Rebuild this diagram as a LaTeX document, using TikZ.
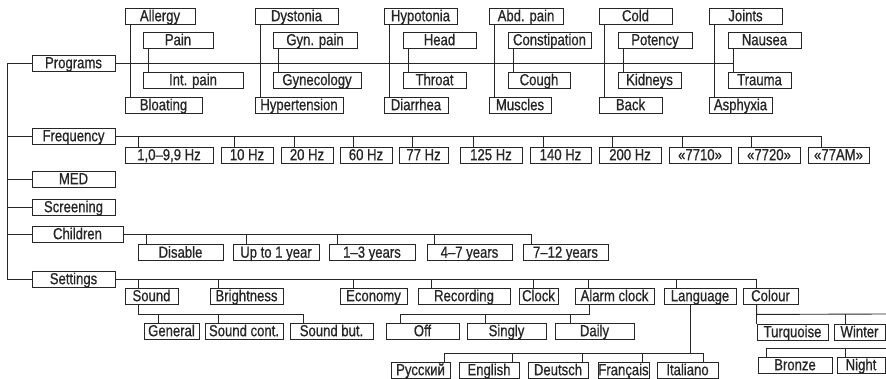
\documentclass[tikz,border=0pt]{standalone}
\usepackage{fontspec}
\setmainfont[FakeStretch=0.82, FakeBold=0.8]{Liberation Sans}
\usepackage{tikz}

\begin{document}
\begin{tikzpicture}[x=1pt, y=-1pt, line width=0.9pt, color=black!85,
  item/.style={draw, minimum height=16pt, inner sep=0pt, text height=12.4pt, text depth=2pt, font=\fontsize{16}{18}\selectfont}]
\useasboundingbox (0, 0) rectangle (886, 379);

\node[item, minimum width=83] (programs) at (73.5, 63) {Programs};
\node[item, minimum width=83] (frequency) at (73.5, 136) {Frequency};
\node[item, minimum width=83] (med) at (73.5, 179) {MED};
\node[item, minimum width=83] (screening) at (73.5, 207) {Screening};
\node[item, minimum width=91] (children) at (77.5, 234) {Children};
\node[item, minimum width=83] (settings) at (73.5, 279) {Settings};

\node[item, minimum width=70] (allergy) at (160, 16) {Allergy};
\node[item, minimum width=70] (pain) at (178, 40) {Pain};
\node[item, minimum width=100] (intpain) at (193, 80) {Int. pain};
\node[item, minimum width=77] (bloating) at (163.5, 105) {Bloating};
\node[item, minimum width=83] (dystonia) at (296.5, 16) {Dystonia};
\node[item, minimum width=84] (gynpain) at (315, 40) {Gyn. pain};
\node[item, minimum width=88] (gynecology) at (317, 80) {Gynecology};
\node[item, minimum width=88] (hypertension) at (299, 105) {Hypertension};
\node[item, minimum width=73] (hypotonia) at (420.5, 16) {Hypotonia};
\node[item, minimum width=73] (head) at (439.5, 40) {Head};
\node[item, minimum width=63] (throat) at (434.5, 80) {Throat};
\node[item, minimum width=64] (diarrhea) at (416, 105) {Diarrhea};
\node[item, minimum width=74] (abdpain) at (526, 16) {Abd. pain};
\node[item, minimum width=83] (constipation) at (549.5, 40) {Constipation};
\node[item, minimum width=62] (cough) at (539, 80) {Cough};
\node[item, minimum width=62] (muscles) at (520, 105) {Muscles};
\node[item, minimum width=73] (cold) at (635.5, 16) {Cold};
\node[item, minimum width=74] (potency) at (655, 40) {Potency};
\node[item, minimum width=63] (kidneys) at (649.5, 80) {Kidneys};
\node[item, minimum width=63] (back) at (630.5, 105) {Back};
\node[item, minimum width=73] (joints) at (745.5, 16) {Joints};
\node[item, minimum width=73] (nausea) at (764.5, 40) {Nausea};
\node[item, minimum width=63] (trauma) at (759.5, 80) {Trauma};
\node[item, minimum width=63] (asphyxia) at (740.5, 105) {Asphyxia};

\node[item, minimum width=88] (f1) at (169, 155) {1,0--9,9 Hz};
\node[item, minimum width=52] (f10) at (247, 155) {10 Hz};
\node[item, minimum width=52] (f20) at (307, 155) {20 Hz};
\node[item, minimum width=52] (f60) at (366, 155) {60 Hz};
\node[item, minimum width=49] (f77) at (423.5, 155) {77 Hz};
\node[item, minimum width=62] (f125) at (491, 155) {125 Hz};
\node[item, minimum width=61] (f140) at (560.5, 155) {140 Hz};
\node[item, minimum width=62] (f200) at (630, 155) {200 Hz};
\node[item, minimum width=62] (f7710) at (700, 155) {«7710»};
\node[item, minimum width=62] (f7720) at (769, 155) {«7720»};
\node[item, minimum width=61] (f77am) at (838.5, 155) {«77AM»};

\node[item, minimum width=85] (disable) at (180.5, 252.5) {Disable};
\node[item, minimum width=86] (upto1) at (276, 252.5) {Up to 1 year};
\node[item, minimum width=86] (y13) at (372, 252.5) {1--3 years};
\node[item, minimum width=85] (y47) at (469.5, 252.5) {4--7 years};
\node[item, minimum width=85] (y712) at (565.5, 252.5) {7--12 years};

\node[item, minimum width=53] (sound) at (151.5, 296) {Sound};
\node[item, minimum width=73] (brightness) at (246.5, 296) {Brightness};
\node[item, minimum width=67] (economy) at (373.5, 296) {Economy};
\node[item, minimum width=92] (recording) at (464, 296) {Recording};
\node[item, minimum width=39] (clock) at (538.5, 296) {Clock};
\node[item, minimum width=79] (alarm) at (614.5, 296) {Alarm clock};
\node[item, minimum width=72] (language) at (700, 296) {Language};
\node[item, minimum width=55] (colour) at (770.5, 296) {Colour};

\node[item, minimum width=55] (general) at (171.5, 331) {General};
\node[item, minimum width=78] (soundcont) at (244, 331) {Sound cont.};
\node[item, minimum width=83] (soundbut) at (331.5, 331) {Sound but.};
\node[item, minimum width=73] (off) at (422.5, 331) {Off};
\node[item, minimum width=79] (singly) at (506.5, 331) {Singly};
\node[item, minimum width=79] (daily) at (594.5, 331) {Daily};
\node[item, minimum width=71] (turquoise) at (792.5, 332) {Turquoise};
\node[item, minimum width=51] (winter) at (859.5, 332) {Winter};

\node[item, minimum width=59] (russian) at (420.5, 370) {Русский};
\node[item, minimum width=60] (english) at (489, 370) {English};
\node[item, minimum width=60] (deutsch) at (558, 370) {Deutsch};
\node[item, minimum width=51] (francais) at (623.5, 370) {Français};
\node[item, minimum width=61] (italiano) at (687.5, 370) {Italiano};
\node[item, minimum width=74] (bronze) at (795, 365) {Bronze};
\node[item, minimum width=48] (night) at (861, 365) {Night};

\coordinate (colour end) at (886, 314);
\coordinate (bronze end) at (886, 348);
\coordinate (winter tick) at ([xshift=12pt]winter.north west);
\coordinate (bronze tick) at ([xshift=9pt]bronze.north west);
\coordinate (night tick) at ([xshift=9pt]night.north west);

\draw (programs.west) -- ++(-24, 0) |- (settings.west);
\foreach \n in {frequency, med, screening, children}
  \draw (\n.west) -- ++(-24, 0);

\draw (programs.east) -| ([xshift=6pt]nausea.south west);
\foreach \a/\b in {allergy/bloating, pain/intpain, dystonia/hypertension, gynpain/gynecology, hypotonia/diarrhea, head/throat, abdpain/muscles, constipation/cough, cold/back, potency/kidneys, joints/asphyxia, nausea/trauma}
  \draw ([xshift=6pt]\a.south west) -- ([xshift=6pt]\b.north west);

\foreach \n in {f1, f10, f20, f60, f77, f125, f140, f200, f7710, f7720, f77am}
  \draw (frequency.east) -| ([xshift=14pt]\n.north west);

\foreach \n/\d in {disable/9, upto1/14, y13/9, y47/8, y712/9}
  \draw (children.east) -| ([xshift=\d pt]\n.north west);

\foreach \n/\d in {sound/14, brightness/9, economy/14, recording/14, clock/15, alarm/14, language/13, colour/14}
  \draw (settings.east) -| ([xshift=\d pt]\n.north west);

\foreach \n/\d in {general/15, soundcont/14, soundbut/14}
  \draw ([xshift=14pt]sound.south west) -- ++(0, 10) -| ([xshift=\d pt]\n.north west);

\foreach \n/\d in {off/15, singly/19, daily/16}
  \draw ([xshift=15pt]alarm.south west) -- ++(0, 10) -| ([xshift=\d pt]\n.north west);

\foreach \n/\d in {russian/-6, english/-7, deutsch/-6, francais/-7, italiano/-15}
  \draw ([xshift=27pt]language.south west) -- ++(0, 49) -| ([xshift=\d pt]\n.north east);

\draw ([xshift=14pt]colour.south west) -- (turquoise.north west);
\draw ([xshift=14pt]colour.south west) -- ++(0, 10) -- (colour end);
\draw (winter tick) -- (winter tick |- colour end);
\draw (bronze tick) |- (bronze end);
\draw (night tick) -- (night tick |- bronze end);
\end{tikzpicture}
\end{document}
